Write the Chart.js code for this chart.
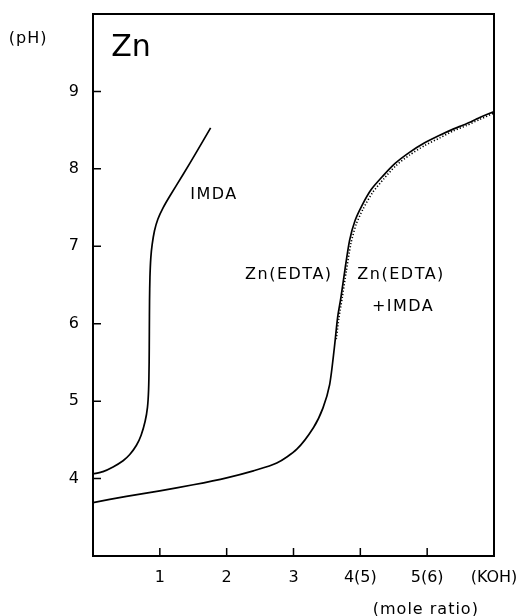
<!DOCTYPE html>
<html>
<head>
<meta charset="utf-8">
<script src="https://cdn.jsdelivr.net/npm/chart.js@4"></script>
<style>
  html, body { margin: 0; padding: 0; background: #fff; }
  #wrap { width: 516px; height: 616px; }
</style>
</head>
<body>
<div id="wrap"><canvas id="chart"></canvas></div>
<script>
// IMDA alone
const imdaX = [0, 0.15, 0.30, 0.45, 0.55, 0.65, 0.72, 0.78, 0.815, 0.832, 0.84, 0.843, 0.846, 0.852, 0.865, 0.885, 0.92, 0.97, 1.05, 1.15, 1.35, 1.55, 1.76];
const imdaPH = [4.06, 4.09, 4.15, 4.23, 4.31, 4.43, 4.56, 4.74, 4.92, 5.15, 5.5, 5.9, 6.3, 6.6, 6.85, 7.02, 7.2, 7.35, 7.5, 7.65, 7.93, 8.22, 8.53];

// Zn(EDTA)
const edtaX = [0, 0.5, 1.0, 1.5, 2.0, 2.4, 2.75, 3.05, 3.3, 3.44, 3.54, 3.61, 3.66, 3.71, 3.77, 3.84, 3.92, 4.02, 4.16, 4.34, 4.52, 4.73, 4.95, 5.18, 5.38, 5.58, 5.78, 6.0];
const edtaPH = [3.69, 3.77, 3.84, 3.92, 4.01, 4.10, 4.20, 4.38, 4.66, 4.91, 5.21, 5.68, 6.08, 6.34, 6.7, 7.08, 7.33, 7.52, 7.73, 7.91, 8.07, 8.21, 8.33, 8.43, 8.51, 8.58, 8.66, 8.74];

// Zn(EDTA) + IMDA (dotted)
const mixX = [3.64, 3.68, 3.73, 3.79, 3.86, 3.94, 4.04, 4.18, 4.35, 4.53, 4.74, 4.96, 5.19, 5.39, 5.59, 5.79, 6.0];
const mixPH = [5.8, 6.08, 6.34, 6.68, 7.04, 7.29, 7.48, 7.69, 7.87, 8.04, 8.18, 8.30, 8.40, 8.49, 8.56, 8.64, 8.72];

const xTickLabels = { 1: '1', 2: '2', 3: '3', 4: '4(5)', 5: '5(6)', 6: '(KOH)' };
const yTickValues = [4, 5, 6, 7, 8, 9];

// text labels in data coordinates
const notes = [
  { text: '(pH)', x: -0.97, y: 9.68, size: 16, spacing: 1 },
  { text: 'Zn', x: 0.57, y: 9.56, size: 30, spacing: 0 },
  { text: 'IMDA', x: 1.81, y: 7.66, size: 16, spacing: 1.5 },
  { text: 'Zn(EDTA)', x: 2.93, y: 6.63, size: 16, spacing: 1.5 },
  { text: 'Zn(EDTA)', x: 4.61, y: 6.63, size: 16, spacing: 1.5 },
  { text: '+IMDA', x: 4.64, y: 6.22, size: 16, spacing: 1.5 },
  { text: '(mole ratio)', x: 4.98, y: 2.30, size: 16, spacing: 1 }
];

const toPoints = (xs, ys) => xs.map((x, i) => ({ x: x, y: ys[i] }));

const frameAndTicks = {
  id: 'frameAndTicks',
  afterDraw(chart) {
    const { ctx, chartArea: a, scales } = chart;
    ctx.save();
    ctx.strokeStyle = '#000';
    ctx.lineWidth = 2;
    ctx.strokeRect(a.left, a.top, a.right - a.left, a.bottom - a.top);
    ctx.lineWidth = 1.5;
    ctx.beginPath();
    yTickValues.forEach(v => {
      const py = scales.y.getPixelForValue(v);
      ctx.moveTo(a.left, py);
      ctx.lineTo(a.left + 8, py);
    });
    [1, 2, 3, 4, 5].forEach(v => {
      const px = scales.x.getPixelForValue(v);
      ctx.moveTo(px, a.bottom);
      ctx.lineTo(px, a.bottom - 8);
    });
    ctx.stroke();
    ctx.fillStyle = '#000';
    ctx.textAlign = 'center';
    ctx.textBaseline = 'middle';
    notes.forEach(n => {
      ctx.font = n.size + 'px "DejaVu Sans"';
      ctx.letterSpacing = n.spacing + 'px';
      ctx.fillText(n.text, scales.x.getPixelForValue(n.x), scales.y.getPixelForValue(n.y));
    });
    ctx.restore();
  }
};

new Chart(document.getElementById('chart'), {
  type: 'line',
  data: {
    datasets: [
      {
        label: 'IMDA',
        data: toPoints(imdaX, imdaPH),
        borderColor: '#000',
        borderWidth: 1.7,
        pointRadius: 0,
        tension: 0.25,
        fill: false
      },
      {
        label: 'Zn(EDTA)',
        data: toPoints(edtaX, edtaPH),
        borderColor: '#000',
        borderWidth: 1.7,
        pointRadius: 0,
        tension: 0.25,
        fill: false
      },
      {
        label: 'Zn(EDTA)+IMDA',
        data: toPoints(mixX, mixPH),
        borderColor: '#000',
        borderWidth: 1.6,
        borderDash: [1.2, 2],
        pointRadius: 0,
        tension: 0.25,
        fill: false
      }
    ]
  },
  options: {
    responsive: true,
    maintainAspectRatio: false,
    animation: false,
    layout: { padding: { top: 14, right: 22, left: 0, bottom: 0 } },
    plugins: {
      legend: { display: false },
      tooltip: { enabled: false }
    },
    scales: {
      x: {
        type: 'linear',
        min: 0,
        max: 6,
        grid: { display: false, drawTicks: false },
        border: { display: false },
        afterFit: s => { s.height = 60; s.paddingLeft = 0; s.paddingRight = 0; },
        ticks: {
          stepSize: 1,
          padding: 12,
          color: '#000',
          font: { family: 'DejaVu Sans', size: 16 },
          callback: v => xTickLabels[v] || ''
        }
      },
      y: {
        min: 3,
        max: 10,
        grid: { display: false, drawTicks: false },
        border: { display: false },
        afterFit: s => { s.width = 93; s.paddingTop = 0; s.paddingBottom = 0; },
        ticks: {
          stepSize: 1,
          padding: 14,
          color: '#000',
          font: { family: 'DejaVu Sans', size: 16 },
          callback: v => (yTickValues.includes(v) ? String(v) : '')
        }
      }
    }
  },
  plugins: [frameAndTicks]
});
</script>
</body>
</html>
